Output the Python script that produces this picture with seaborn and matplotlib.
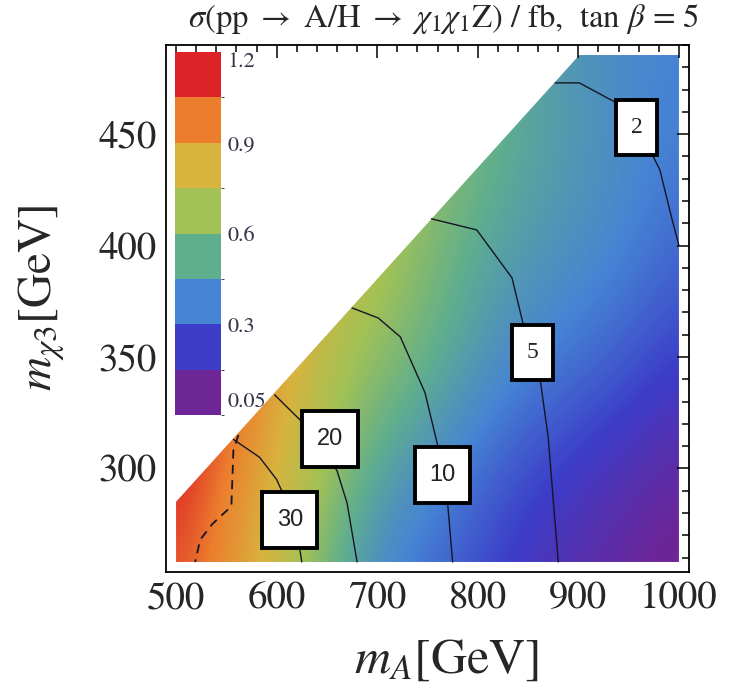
import numpy as np
import matplotlib
matplotlib.use("Agg")
import matplotlib.pyplot as plt
import seaborn as sns
from matplotlib.colors import ListedColormap, LinearSegmentedColormap, BoundaryNorm
from matplotlib.patches import Polygon
from matplotlib.path import Path
import matplotlib.cm as cm
from matplotlib.ticker import MultipleLocator

# ---------------- data ----------------
# cross-section field (fb) on a coarse grid of (m_A, m_chi3) nodes
mA_nodes = [500, 550, 600, 650, 700, 750, 800, 850, 900, 950, 1000]
mchi3_nodes = [258, 303.5, 349, 394.5, 440, 485.5]
sigma_rows = [
    [1.05, 0.92, 0.78, 0.55, 0.40, 0.33, 0.26, 0.19, 0.14, 0.09, 0.05],
    [1.15, 0.97, 0.83, 0.68, 0.50, 0.42, 0.34, 0.27, 0.22, 0.17, 0.12],
    [1.20, 1.05, 0.88, 0.72, 0.64, 0.54, 0.45, 0.38, 0.34, 0.29, 0.23],
    [1.20, 1.10, 0.95, 0.80, 0.70, 0.60, 0.50, 0.45, 0.41, 0.37, 0.31],
    [1.20, 1.15, 1.00, 0.86, 0.75, 0.65, 0.56, 0.49, 0.45, 0.40, 0.36],
    [1.20, 1.20, 1.05, 0.90, 0.80, 0.68, 0.58, 0.50, 0.43, 0.40, 0.37],
]

# kinematic boundary (upper-left edge of the allowed region)
bound_mA = [500, 901]
bound_mchi3 = [285, 485.5]

# labelled contour lines
c2_mA = [877, 901, 938, 971, 981, 993, 1000]
c2_mchi3 = [473, 473, 464, 443, 434, 412, 400]
c5_mA = [754, 799, 834, 845, 862, 870, 880]
c5_mchi3 = [412, 407, 385.5, 365, 340, 314, 258]
c10_mA = [675, 701, 723, 747.5, 760, 770, 775]
c10_mchi3 = [372, 367.5, 359, 334, 310.5, 284.5, 258]
c20_mA = [598, 625, 660, 670, 680]
c20_mchi3 = [333, 321, 299, 284.5, 258]
c30_mA = [557, 583, 600, 605, 623, 625]
c30_mchi3 = [313, 305, 295, 290, 264, 258]
dashed_mA = [562, 557, 555, 536, 524, 519]
dashed_mchi3 = [315, 308, 283, 275, 268, 258]

label_text = ["2", "5", "10", "20", "30"]
label_mA = [958, 854, 765, 653, 613]
label_mchi3 = [453, 352, 297, 313, 277]
label_family = ["Liberation Serif", "Liberation Serif", "Liberation Sans",
                "Liberation Sans", "Liberation Sans"]

# legend bar
cb_colors = ["#6e2596", "#3c3cc8", "#4684d4", "#5fae8e",
             "#a2c255", "#d8b33e", "#ec7d2d", "#dc2328"]
cb_bounds = [0, 0.15, 0.30, 0.45, 0.60, 0.75, 0.90, 1.05, 1.20]
cb_ticks = [0.05, 0.3, 0.6, 0.9, 1.2]
cb_ticklabels = ["0.05", "0.3", "0.6", "0.9", "1.2"]

x_ticks = [500, 600, 700, 800, 900, 1000]
y_ticks = [300, 350, 400, 450]

# ---------------- style ----------------
sns.set_style("white")
plt.rcParams["font.family"] = ["STIXGeneral", "DejaVu Serif"]
plt.rcParams["mathtext.fontset"] = "stix"

fig = plt.figure(figsize=(7.31, 6.87), dpi=100)
ax = fig.add_axes([166 / 731, 1 - 572 / 687, 523 / 731, 527 / 687])

# continuous colormap built from the band colours
cb_centers = [(cb_bounds[i] + cb_bounds[i + 1]) / 2 / 1.2 for i in range(8)]
nodes = [0.0] + cb_centers + [1.0]
cols = [cb_colors[0]] + cb_colors + [cb_colors[-1]]
cmap_cont = LinearSegmentedColormap.from_list("rb", list(zip(nodes, cols)))

field = np.array(sigma_rows)
dx = mA_nodes[1] - mA_nodes[0]
dy = mchi3_nodes[1] - mchi3_nodes[0]
im = ax.imshow(field, origin="lower", cmap=cmap_cont, vmin=0, vmax=1.2,
               interpolation="bicubic", aspect="auto",
               extent=[mA_nodes[0] - dx / 2, mA_nodes[-1] + dx / 2,
                       mchi3_nodes[0] - dy / 2, mchi3_nodes[-1] + dy / 2])
region = Polygon([(mA_nodes[0], mchi3_nodes[0]), (mA_nodes[-1], mchi3_nodes[0]),
                  (mA_nodes[-1], mchi3_nodes[-1]), (bound_mA[1], bound_mchi3[1]),
                  (bound_mA[0], bound_mchi3[0])],
                 closed=True, transform=ax.transData, facecolor="none", edgecolor="none")
ax.add_patch(region)
im.set_clip_path(region)

line_col = "#151525"
for xs, ys in [(c2_mA, c2_mchi3), (c5_mA, c5_mchi3), (c10_mA, c10_mchi3),
               (c20_mA, c20_mchi3), (c30_mA, c30_mchi3)]:
    sns.lineplot(x=xs, y=ys, sort=False, estimator=None, color=line_col,
                 lw=1.0, ax=ax)
sns.lineplot(x=dashed_mA, y=dashed_mchi3, sort=False, estimator=None,
             color=line_col, lw=1.3, ax=ax, linestyle=(0, (5, 3.5)))


def label_box(x0, y0, width, height, mutation_size):
    px = 0.62 * mutation_size
    py = 0.72 * mutation_size
    xa, ya = x0 - px, y0 - py
    xb, yb = x0 + width + px, y0 + height + py
    return Path([(xa, ya), (xb, ya), (xb, yb), (xa, yb), (xa, ya)], closed=True)


for t, xv, yv, fam in zip(label_text, label_mA, label_mchi3, label_family):
    ax.text(xv, yv, t, ha="center", va="center", fontsize=17, family=fam,
            color="#222222", zorder=5,
            bbox=dict(boxstyle=label_box, fc="white", ec="black", lw=2.8))

ax.set_xlim(490, 1010)
ax.set_ylim(253.5, 490)
ax.set_xticks(x_ticks)
ax.set_yticks(y_ticks)
ax.xaxis.set_minor_locator(MultipleLocator(20))
ax.yaxis.set_minor_locator(MultipleLocator(10))
ax.tick_params(which="both", direction="in", top=True, right=True,
               color="black", width=1.1)
ax.tick_params(which="major", length=9, labelsize=28, pad=7)
ax.tick_params(which="minor", length=5)
for s in ax.spines.values():
    s.set_linewidth(1.3)
    s.set_color("black")

ax.set_xlabel(r"$m_A$[GeV]", fontsize=36)
ax.set_ylabel(r"$m_{\chi 3}$[GeV]", fontsize=34)
ax.xaxis.set_label_coords(0.537, -0.125)
ax.yaxis.set_label_coords(-0.19, 0.52)

fig.text(0.606, 0.972,
         r"$\sigma$(pp $\rightarrow$ A/H $\rightarrow$ $\chi_1\chi_1$Z) / fb,  tan $\beta$ = 5",
         ha="center", va="center", fontsize=23.5)

# bar legend
cax = fig.add_axes([175 / 731, 1 - 415 / 687, 46 / 731, 363 / 687])
sm = cm.ScalarMappable(norm=BoundaryNorm(cb_bounds, 8), cmap=ListedColormap(cb_colors))
cb = fig.colorbar(sm, cax=cax, ticks=cb_ticks)
cb.outline.set_visible(False)
cax.set_yticklabels(cb_ticklabels)
cax.tick_params(length=0, labelsize=16, labelcolor="#34344a", pad=5)
cax.get_yticklabels()[-1].set_va("top")

fig.savefig("out.png", dpi=100, facecolor="white")
